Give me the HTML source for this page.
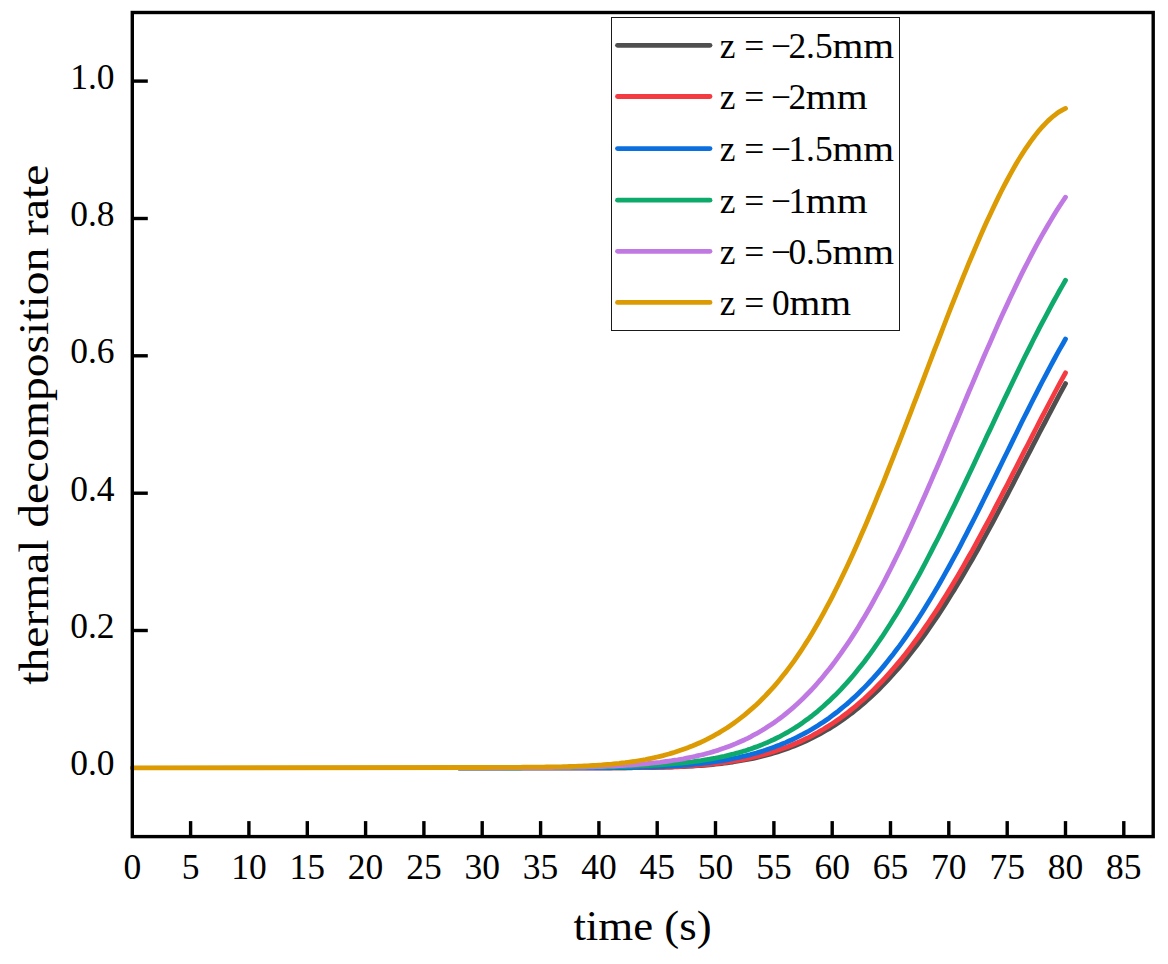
<!DOCTYPE html>
<html><head><meta charset="utf-8"><title>chart</title>
<style>
html,body{margin:0;padding:0;background:#fff;}
body{width:1168px;height:964px;overflow:hidden;font-family:"Liberation Serif",serif;}
svg{display:block;}
text{font-family:"Liberation Serif",serif;fill:#000;}
</style></head><body>
<svg width="1168" height="964" viewBox="0 0 1168 964">
<rect width="1168" height="964" fill="#fff"/>

<g stroke="#000" stroke-width="3.4">
<line x1="190.6" y1="836.6" x2="190.6" y2="821.1"/>
<line x1="248.9" y1="836.6" x2="248.9" y2="821.1"/>
<line x1="307.3" y1="836.6" x2="307.3" y2="821.1"/>
<line x1="365.6" y1="836.6" x2="365.6" y2="821.1"/>
<line x1="423.9" y1="836.6" x2="423.9" y2="821.1"/>
<line x1="482.2" y1="836.6" x2="482.2" y2="821.1"/>
<line x1="540.6" y1="836.6" x2="540.6" y2="821.1"/>
<line x1="598.9" y1="836.6" x2="598.9" y2="821.1"/>
<line x1="657.2" y1="836.6" x2="657.2" y2="821.1"/>
<line x1="715.5" y1="836.6" x2="715.5" y2="821.1"/>
<line x1="773.9" y1="836.6" x2="773.9" y2="821.1"/>
<line x1="832.2" y1="836.6" x2="832.2" y2="821.1"/>
<line x1="890.5" y1="836.6" x2="890.5" y2="821.1"/>
<line x1="948.8" y1="836.6" x2="948.8" y2="821.1"/>
<line x1="1007.2" y1="836.6" x2="1007.2" y2="821.1"/>
<line x1="1065.5" y1="836.6" x2="1065.5" y2="821.1"/>
<line x1="1123.8" y1="836.6" x2="1123.8" y2="821.1"/>
<line x1="132.3" y1="767.9" x2="147.8" y2="767.9"/>
<line x1="132.3" y1="630.5" x2="147.8" y2="630.5"/>
<line x1="132.3" y1="493.2" x2="147.8" y2="493.2"/>
<line x1="132.3" y1="355.8" x2="147.8" y2="355.8"/>
<line x1="132.3" y1="218.5" x2="147.8" y2="218.5"/>
<line x1="132.3" y1="81.1" x2="147.8" y2="81.1"/>
</g>
<g fill="none" stroke-linecap="round" stroke-linejoin="round" stroke-width="4.8">
<path d="M458.9,767.9 L482.2,767.9 L493.9,767.9 L496.8,767.9 L499.7,767.9 L502.7,767.9 L505.6,767.9 L508.5,767.9 L511.4,767.9 L514.3,767.9 L517.2,767.9 L520.2,767.9 L523.1,767.9 L526.0,767.9 L528.9,767.9 L531.8,767.9 L534.7,767.9 L537.6,767.9 L540.6,767.9 L543.5,767.9 L546.4,767.9 L549.3,767.9 L552.2,767.9 L555.1,767.9 L558.1,767.9 L561.0,767.9 L563.9,767.9 L566.8,767.9 L569.7,767.9 L572.6,767.9 L575.6,767.9 L578.5,767.9 L581.4,767.9 L584.3,767.9 L587.2,767.9 L590.1,767.9 L593.1,767.9 L596.0,767.9 L598.9,767.9 L601.8,767.9 L604.7,767.9 L607.6,767.9 L610.6,767.9 L613.5,767.9 L616.4,767.8 L619.3,767.8 L622.2,767.8 L625.1,767.8 L628.0,767.8 L631.0,767.8 L633.9,767.7 L636.8,767.7 L639.7,767.7 L642.6,767.7 L645.5,767.6 L648.5,767.6 L651.4,767.5 L654.3,767.5 L657.2,767.4 L660.1,767.3 L663.0,767.3 L666.0,767.2 L668.9,767.1 L671.8,767.0 L674.7,766.9 L677.6,766.8 L680.5,766.7 L683.5,766.5 L686.4,766.4 L689.3,766.2 L692.2,766.1 L695.1,765.9 L698.0,765.7 L701.0,765.5 L703.9,765.3 L706.8,765.0 L709.7,764.8 L712.6,764.5 L715.5,764.2 L718.5,763.9 L721.4,763.5 L724.3,763.2 L727.2,762.8 L730.1,762.4 L733.0,762.0 L735.9,761.5 L738.9,761.0 L741.8,760.5 L744.7,760.0 L747.6,759.5 L750.5,758.9 L753.4,758.3 L756.4,757.6 L759.3,756.9 L762.2,756.2 L765.1,755.5 L768.0,754.7 L770.9,753.9 L773.9,753.0 L776.8,752.2 L779.7,751.2 L782.6,750.3 L785.5,749.3 L788.4,748.2 L791.4,747.1 L794.3,746.0 L797.2,744.8 L800.1,743.6 L803.0,742.3 L805.9,741.0 L808.9,739.6 L811.8,738.2 L814.7,736.7 L817.6,735.2 L820.5,733.6 L823.4,732.0 L826.3,730.3 L829.3,728.6 L832.2,726.8 L835.1,724.9 L838.0,723.0 L840.9,721.0 L843.8,719.0 L846.8,716.9 L849.7,714.7 L852.6,712.5 L855.5,710.2 L858.4,707.8 L861.3,705.4 L864.3,702.9 L867.2,700.3 L870.1,697.7 L873.0,695.0 L875.9,692.2 L878.8,689.4 L881.8,686.4 L884.7,683.4 L887.6,680.4 L890.5,677.2 L893.4,674.0 L896.3,670.7 L899.3,667.3 L902.2,663.9 L905.1,660.4 L908.0,656.7 L910.9,653.1 L913.8,649.3 L916.8,645.5 L919.7,641.6 L922.6,637.6 L925.5,633.5 L928.4,629.4 L931.3,625.2 L934.2,620.9 L937.2,616.6 L940.1,612.2 L943.0,607.7 L945.9,603.1 L948.8,598.5 L951.7,593.8 L954.7,589.1 L957.6,584.3 L960.5,579.5 L963.4,574.5 L966.3,569.6 L969.2,564.5 L972.2,559.5 L975.1,554.3 L978.0,549.2 L980.9,543.9 L983.8,538.6 L986.7,533.3 L989.7,527.9 L992.6,522.5 L995.5,517.1 L998.4,511.6 L1001.3,506.1 L1004.2,500.6 L1007.2,495.0 L1010.1,489.5 L1013.0,483.9 L1015.9,478.2 L1018.8,472.6 L1021.7,467.0 L1024.6,461.3 L1027.6,455.7 L1030.5,450.1 L1033.4,444.4 L1036.3,438.8 L1039.2,433.2 L1042.1,427.6 L1045.1,422.0 L1048.0,416.4 L1050.9,410.8 L1053.8,405.3 L1056.7,399.8 L1059.6,394.4 L1062.6,388.9 L1065.5,383.6" stroke="#4f4f4f"/>
<path d="M458.9,767.9 L482.2,767.9 L493.9,767.9 L496.8,767.9 L499.7,767.9 L502.7,767.9 L505.6,767.9 L508.5,767.9 L511.4,767.9 L514.3,767.9 L517.2,767.9 L520.2,767.9 L523.1,767.9 L526.0,767.9 L528.9,767.9 L531.8,767.9 L534.7,767.9 L537.6,767.9 L540.6,767.9 L543.5,767.9 L546.4,767.9 L549.3,767.9 L552.2,767.9 L555.1,767.9 L558.1,767.9 L561.0,767.9 L563.9,767.9 L566.8,767.9 L569.7,767.9 L572.6,767.9 L575.6,767.9 L578.5,767.9 L581.4,767.9 L584.3,767.9 L587.2,767.9 L590.1,767.9 L593.1,767.9 L596.0,767.9 L598.9,767.9 L601.8,767.9 L604.7,767.9 L607.6,767.9 L610.6,767.8 L613.5,767.8 L616.4,767.8 L619.3,767.8 L622.2,767.8 L625.1,767.8 L628.0,767.7 L631.0,767.7 L633.9,767.7 L636.8,767.7 L639.7,767.6 L642.6,767.6 L645.5,767.5 L648.5,767.5 L651.4,767.4 L654.3,767.4 L657.2,767.3 L660.1,767.2 L663.0,767.1 L666.0,767.1 L668.9,767.0 L671.8,766.8 L674.7,766.7 L677.6,766.6 L680.5,766.5 L683.5,766.3 L686.4,766.1 L689.3,766.0 L692.2,765.8 L695.1,765.6 L698.0,765.3 L701.0,765.1 L703.9,764.8 L706.8,764.6 L709.7,764.3 L712.6,764.0 L715.5,763.6 L718.5,763.3 L721.4,762.9 L724.3,762.5 L727.2,762.1 L730.1,761.7 L733.0,761.2 L735.9,760.7 L738.9,760.2 L741.8,759.7 L744.7,759.1 L747.6,758.5 L750.5,757.8 L753.4,757.2 L756.4,756.5 L759.3,755.8 L762.2,755.0 L765.1,754.2 L768.0,753.4 L770.9,752.5 L773.9,751.6 L776.8,750.6 L779.7,749.6 L782.6,748.6 L785.5,747.5 L788.4,746.4 L791.4,745.2 L794.3,744.0 L797.2,742.8 L800.1,741.5 L803.0,740.1 L805.9,738.7 L808.9,737.3 L811.8,735.8 L814.7,734.2 L817.6,732.6 L820.5,730.9 L823.4,729.2 L826.3,727.4 L829.3,725.6 L832.2,723.7 L835.1,721.8 L838.0,719.7 L840.9,717.7 L843.8,715.5 L846.8,713.3 L849.7,711.0 L852.6,708.7 L855.5,706.3 L858.4,703.8 L861.3,701.3 L864.3,698.7 L867.2,696.0 L870.1,693.2 L873.0,690.4 L875.9,687.5 L878.8,684.5 L881.8,681.5 L884.7,678.4 L887.6,675.2 L890.5,671.9 L893.4,668.5 L896.3,665.1 L899.3,661.6 L902.2,658.1 L905.1,654.4 L908.0,650.7 L910.9,646.9 L913.8,643.0 L916.8,639.0 L919.7,635.0 L922.6,630.9 L925.5,626.7 L928.4,622.5 L931.3,618.2 L934.2,613.8 L937.2,609.3 L940.1,604.8 L943.0,600.1 L945.9,595.5 L948.8,590.7 L951.7,585.9 L954.7,581.0 L957.6,576.1 L960.5,571.1 L963.4,566.1 L966.3,560.9 L969.2,555.8 L972.2,550.6 L975.1,545.3 L978.0,540.0 L980.9,534.6 L983.8,529.2 L986.7,523.8 L989.7,518.3 L992.6,512.8 L995.5,507.2 L998.4,501.7 L1001.3,496.0 L1004.2,490.4 L1007.2,484.8 L1010.1,479.1 L1013.0,473.4 L1015.9,467.8 L1018.8,462.1 L1021.7,456.4 L1024.6,450.7 L1027.6,445.0 L1030.5,439.3 L1033.4,433.6 L1036.3,428.0 L1039.2,422.3 L1042.1,416.7 L1045.1,411.1 L1048.0,405.5 L1050.9,400.0 L1053.8,394.5 L1056.7,389.0 L1059.6,383.6 L1062.6,378.2 L1065.5,372.8" stroke="#f43b41"/>
<path d="M458.9,767.9 L482.2,767.9 L493.9,767.9 L496.8,767.9 L499.7,767.9 L502.7,767.9 L505.6,767.9 L508.5,767.9 L511.4,767.9 L514.3,767.9 L517.2,767.9 L520.2,767.9 L523.1,767.9 L526.0,767.9 L528.9,767.9 L531.8,767.9 L534.7,767.9 L537.6,767.9 L540.6,767.9 L543.5,767.9 L546.4,767.9 L549.3,767.9 L552.2,767.9 L555.1,767.9 L558.1,767.9 L561.0,767.9 L563.9,767.9 L566.8,767.9 L569.7,767.9 L572.6,767.9 L575.6,767.9 L578.5,767.9 L581.4,767.9 L584.3,767.9 L587.2,767.9 L590.1,767.9 L593.1,767.8 L596.0,767.8 L598.9,767.8 L601.8,767.8 L604.7,767.8 L607.6,767.8 L610.6,767.8 L613.5,767.7 L616.4,767.7 L619.3,767.7 L622.2,767.6 L625.1,767.6 L628.0,767.6 L631.0,767.5 L633.9,767.4 L636.8,767.4 L639.7,767.3 L642.6,767.2 L645.5,767.2 L648.5,767.1 L651.4,767.0 L654.3,766.9 L657.2,766.8 L660.1,766.6 L663.0,766.5 L666.0,766.4 L668.9,766.2 L671.8,766.0 L674.7,765.9 L677.6,765.7 L680.5,765.5 L683.5,765.2 L686.4,765.0 L689.3,764.8 L692.2,764.5 L695.1,764.2 L698.0,763.9 L701.0,763.6 L703.9,763.2 L706.8,762.9 L709.7,762.5 L712.6,762.1 L715.5,761.7 L718.5,761.2 L721.4,760.8 L724.3,760.3 L727.2,759.8 L730.1,759.2 L733.0,758.6 L735.9,758.0 L738.9,757.4 L741.8,756.7 L744.7,756.1 L747.6,755.3 L750.5,754.6 L753.4,753.8 L756.4,753.0 L759.3,752.1 L762.2,751.2 L765.1,750.3 L768.0,749.3 L770.9,748.3 L773.9,747.2 L776.8,746.1 L779.7,745.0 L782.6,743.8 L785.5,742.6 L788.4,741.3 L791.4,740.0 L794.3,738.6 L797.2,737.2 L800.1,735.7 L803.0,734.2 L805.9,732.6 L808.9,731.0 L811.8,729.3 L814.7,727.5 L817.6,725.7 L820.5,723.8 L823.4,721.9 L826.3,719.9 L829.3,717.9 L832.2,715.7 L835.1,713.5 L838.0,711.3 L840.9,708.9 L843.8,706.5 L846.8,704.1 L849.7,701.5 L852.6,698.9 L855.5,696.2 L858.4,693.4 L861.3,690.6 L864.3,687.6 L867.2,684.6 L870.1,681.5 L873.0,678.4 L875.9,675.1 L878.8,671.8 L881.8,668.4 L884.7,664.9 L887.6,661.3 L890.5,657.6 L893.4,653.9 L896.3,650.0 L899.3,646.1 L902.2,642.1 L905.1,638.0 L908.0,633.8 L910.9,629.6 L913.8,625.2 L916.8,620.8 L919.7,616.3 L922.6,611.7 L925.5,607.0 L928.4,602.3 L931.3,597.5 L934.2,592.6 L937.2,587.6 L940.1,582.5 L943.0,577.4 L945.9,572.2 L948.8,567.0 L951.7,561.6 L954.7,556.2 L957.6,550.8 L960.5,545.3 L963.4,539.7 L966.3,534.1 L969.2,528.4 L972.2,522.7 L975.1,517.0 L978.0,511.2 L980.9,505.4 L983.8,499.5 L986.7,493.6 L989.7,487.7 L992.6,481.8 L995.5,475.9 L998.4,469.9 L1001.3,464.0 L1004.2,458.0 L1007.2,452.0 L1010.1,446.1 L1013.0,440.1 L1015.9,434.2 L1018.8,428.2 L1021.7,422.3 L1024.6,416.5 L1027.6,410.6 L1030.5,404.8 L1033.4,399.0 L1036.3,393.3 L1039.2,387.6 L1042.1,382.0 L1045.1,376.4 L1048.0,370.8 L1050.9,365.4 L1053.8,360.0 L1056.7,354.6 L1059.6,349.4 L1062.6,344.2 L1065.5,339.0" stroke="#0b6fe0"/>
<path d="M458.9,767.9 L482.2,767.8 L493.9,767.8 L496.8,767.8 L499.7,767.8 L502.7,767.8 L505.6,767.8 L508.5,767.8 L511.4,767.8 L514.3,767.8 L517.2,767.8 L520.2,767.8 L523.1,767.7 L526.0,767.7 L528.9,767.7 L531.8,767.7 L534.7,767.7 L537.6,767.7 L540.6,767.7 L543.5,767.7 L546.4,767.6 L549.3,767.6 L552.2,767.6 L555.1,767.6 L558.1,767.6 L561.0,767.5 L563.9,767.5 L566.8,767.5 L569.7,767.5 L572.6,767.5 L575.6,767.4 L578.5,767.4 L581.4,767.4 L584.3,767.3 L587.2,767.3 L590.1,767.2 L593.1,767.2 L596.0,767.2 L598.9,767.1 L601.8,767.0 L604.7,767.0 L607.6,766.9 L610.6,766.9 L613.5,766.8 L616.4,766.7 L619.3,766.6 L622.2,766.6 L625.1,766.5 L628.0,766.4 L631.0,766.3 L633.9,766.1 L636.8,766.0 L639.7,765.9 L642.6,765.8 L645.5,765.6 L648.5,765.5 L651.4,765.3 L654.3,765.2 L657.2,765.0 L660.1,764.8 L663.0,764.6 L666.0,764.4 L668.9,764.1 L671.8,763.9 L674.7,763.6 L677.6,763.4 L680.5,763.1 L683.5,762.8 L686.4,762.5 L689.3,762.1 L692.2,761.8 L695.1,761.4 L698.0,761.0 L701.0,760.6 L703.9,760.1 L706.8,759.6 L709.7,759.2 L712.6,758.6 L715.5,758.1 L718.5,757.5 L721.4,756.9 L724.3,756.3 L727.2,755.6 L730.1,754.9 L733.0,754.2 L735.9,753.4 L738.9,752.6 L741.8,751.7 L744.7,750.9 L747.6,749.9 L750.5,749.0 L753.4,747.9 L756.4,746.9 L759.3,745.8 L762.2,744.6 L765.1,743.4 L768.0,742.2 L770.9,740.8 L773.9,739.5 L776.8,738.0 L779.7,736.6 L782.6,735.0 L785.5,733.4 L788.4,731.8 L791.4,730.0 L794.3,728.2 L797.2,726.4 L800.1,724.4 L803.0,722.4 L805.9,720.3 L808.9,718.2 L811.8,716.0 L814.7,713.6 L817.6,711.3 L820.5,708.8 L823.4,706.3 L826.3,703.6 L829.3,700.9 L832.2,698.1 L835.1,695.3 L838.0,692.3 L840.9,689.3 L843.8,686.1 L846.8,682.9 L849.7,679.6 L852.6,676.2 L855.5,672.7 L858.4,669.1 L861.3,665.4 L864.3,661.7 L867.2,657.8 L870.1,653.9 L873.0,649.8 L875.9,645.7 L878.8,641.5 L881.8,637.2 L884.7,632.8 L887.6,628.3 L890.5,623.8 L893.4,619.1 L896.3,614.4 L899.3,609.5 L902.2,604.6 L905.1,599.6 L908.0,594.6 L910.9,589.4 L913.8,584.2 L916.8,578.9 L919.7,573.6 L922.6,568.1 L925.5,562.6 L928.4,557.0 L931.3,551.4 L934.2,545.7 L937.2,540.0 L940.1,534.2 L943.0,528.3 L945.9,522.4 L948.8,516.5 L951.7,510.5 L954.7,504.5 L957.6,498.4 L960.5,492.3 L963.4,486.2 L966.3,480.1 L969.2,473.9 L972.2,467.7 L975.1,461.5 L978.0,455.3 L980.9,449.1 L983.8,442.9 L986.7,436.6 L989.7,430.4 L992.6,424.2 L995.5,418.0 L998.4,411.8 L1001.3,405.7 L1004.2,399.5 L1007.2,393.4 L1010.1,387.3 L1013.0,381.2 L1015.9,375.2 L1018.8,369.2 L1021.7,363.2 L1024.6,357.3 L1027.6,351.4 L1030.5,345.6 L1033.4,339.8 L1036.3,334.1 L1039.2,328.4 L1042.1,322.8 L1045.1,317.3 L1048.0,311.8 L1050.9,306.4 L1053.8,301.0 L1056.7,295.8 L1059.6,290.5 L1062.6,285.4 L1065.5,280.3" stroke="#0eaa6b"/>
<path d="M458.9,767.9 L482.2,767.8 L493.9,767.8 L496.8,767.8 L499.7,767.8 L502.7,767.8 L505.6,767.7 L508.5,767.7 L511.4,767.7 L514.3,767.7 L517.2,767.7 L520.2,767.7 L523.1,767.7 L526.0,767.7 L528.9,767.6 L531.8,767.6 L534.7,767.6 L537.6,767.6 L540.6,767.6 L543.5,767.5 L546.4,767.5 L549.3,767.5 L552.2,767.5 L555.1,767.4 L558.1,767.4 L561.0,767.4 L563.9,767.3 L566.8,767.3 L569.7,767.3 L572.6,767.2 L575.6,767.2 L578.5,767.1 L581.4,767.1 L584.3,767.0 L587.2,766.9 L590.1,766.8 L593.1,766.8 L596.0,766.7 L598.9,766.6 L601.8,766.5 L604.7,766.4 L607.6,766.2 L610.6,766.1 L613.5,766.0 L616.4,765.8 L619.3,765.7 L622.2,765.5 L625.1,765.4 L628.0,765.2 L631.0,765.0 L633.9,764.8 L636.8,764.5 L639.7,764.3 L642.6,764.1 L645.5,763.8 L648.5,763.5 L651.4,763.2 L654.3,762.9 L657.2,762.6 L660.1,762.3 L663.0,761.9 L666.0,761.5 L668.9,761.1 L671.8,760.7 L674.7,760.2 L677.6,759.8 L680.5,759.3 L683.5,758.8 L686.4,758.2 L689.3,757.6 L692.2,757.0 L695.1,756.4 L698.0,755.7 L701.0,755.0 L703.9,754.3 L706.8,753.5 L709.7,752.7 L712.6,751.9 L715.5,751.0 L718.5,750.1 L721.4,749.1 L724.3,748.1 L727.2,747.0 L730.1,745.9 L733.0,744.8 L735.9,743.6 L738.9,742.3 L741.8,741.0 L744.7,739.7 L747.6,738.3 L750.5,736.8 L753.4,735.2 L756.4,733.7 L759.3,732.0 L762.2,730.3 L765.1,728.5 L768.0,726.6 L770.9,724.7 L773.9,722.7 L776.8,720.6 L779.7,718.5 L782.6,716.3 L785.5,714.0 L788.4,711.6 L791.4,709.1 L794.3,706.6 L797.2,703.9 L800.1,701.2 L803.0,698.4 L805.9,695.5 L808.9,692.5 L811.8,689.5 L814.7,686.3 L817.6,683.0 L820.5,679.7 L823.4,676.2 L826.3,672.6 L829.3,669.0 L832.2,665.2 L835.1,661.4 L838.0,657.4 L840.9,653.4 L843.8,649.2 L846.8,644.9 L849.7,640.6 L852.6,636.1 L855.5,631.6 L858.4,626.9 L861.3,622.1 L864.3,617.2 L867.2,612.3 L870.1,607.2 L873.0,602.0 L875.9,596.7 L878.8,591.4 L881.8,585.9 L884.7,580.4 L887.6,574.7 L890.5,569.0 L893.4,563.1 L896.3,557.2 L899.3,551.2 L902.2,545.1 L905.1,539.0 L908.0,532.8 L910.9,526.5 L913.8,520.1 L916.8,513.6 L919.7,507.1 L922.6,500.6 L925.5,494.0 L928.4,487.3 L931.3,480.6 L934.2,473.8 L937.2,467.0 L940.1,460.2 L943.0,453.4 L945.9,446.5 L948.8,439.6 L951.7,432.6 L954.7,425.7 L957.6,418.8 L960.5,411.8 L963.4,404.9 L966.3,398.0 L969.2,391.0 L972.2,384.1 L975.1,377.3 L978.0,370.4 L980.9,363.6 L983.8,356.8 L986.7,350.1 L989.7,343.4 L992.6,336.7 L995.5,330.1 L998.4,323.6 L1001.3,317.1 L1004.2,310.7 L1007.2,304.4 L1010.1,298.1 L1013.0,292.0 L1015.9,285.9 L1018.8,279.9 L1021.7,273.9 L1024.6,268.1 L1027.6,262.4 L1030.5,256.7 L1033.4,251.2 L1036.3,245.7 L1039.2,240.4 L1042.1,235.2 L1045.1,230.0 L1048.0,225.0 L1050.9,220.1 L1053.8,215.3 L1056.7,210.6 L1059.6,206.0 L1062.6,201.5 L1065.5,197.2" stroke="#c079e2"/>
<path d="M132.3,767.9 L482.2,767.5 L493.9,767.4 L496.8,767.4 L499.7,767.4 L502.7,767.4 L505.6,767.3 L508.5,767.3 L511.4,767.3 L514.3,767.3 L517.2,767.3 L520.2,767.3 L523.1,767.2 L526.0,767.2 L528.9,767.2 L531.8,767.2 L534.7,767.1 L537.6,767.1 L540.6,767.1 L543.5,767.1 L546.4,767.0 L549.3,767.0 L552.2,766.9 L555.1,766.9 L558.1,766.8 L561.0,766.8 L563.9,766.7 L566.8,766.6 L569.7,766.5 L572.6,766.5 L575.6,766.4 L578.5,766.2 L581.4,766.1 L584.3,766.0 L587.2,765.9 L590.1,765.7 L593.1,765.5 L596.0,765.4 L598.9,765.2 L601.8,765.0 L604.7,764.7 L607.6,764.5 L610.6,764.3 L613.5,764.0 L616.4,763.7 L619.3,763.4 L622.2,763.0 L625.1,762.7 L628.0,762.3 L631.0,761.9 L633.9,761.5 L636.8,761.0 L639.7,760.5 L642.6,760.0 L645.5,759.5 L648.5,758.9 L651.4,758.3 L654.3,757.7 L657.2,757.0 L660.1,756.3 L663.0,755.6 L666.0,754.8 L668.9,754.0 L671.8,753.1 L674.7,752.3 L677.6,751.3 L680.5,750.3 L683.5,749.3 L686.4,748.3 L689.3,747.1 L692.2,746.0 L695.1,744.8 L698.0,743.5 L701.0,742.2 L703.9,740.8 L706.8,739.4 L709.7,737.9 L712.6,736.4 L715.5,734.7 L718.5,733.1 L721.4,731.3 L724.3,729.5 L727.2,727.7 L730.1,725.7 L733.0,723.7 L735.9,721.6 L738.9,719.4 L741.8,717.2 L744.7,714.9 L747.6,712.4 L750.5,709.9 L753.4,707.4 L756.4,704.7 L759.3,701.9 L762.2,699.0 L765.1,696.1 L768.0,693.0 L770.9,689.9 L773.9,686.6 L776.8,683.2 L779.7,679.7 L782.6,676.1 L785.5,672.4 L788.4,668.6 L791.4,664.6 L794.3,660.6 L797.2,656.4 L800.1,652.1 L803.0,647.7 L805.9,643.1 L808.9,638.5 L811.8,633.7 L814.7,628.8 L817.6,623.7 L820.5,618.6 L823.4,613.3 L826.3,607.9 L829.3,602.4 L832.2,596.8 L835.1,591.0 L838.0,585.2 L840.9,579.2 L843.8,573.2 L846.8,567.0 L849.7,560.7 L852.6,554.4 L855.5,547.9 L858.4,541.4 L861.3,534.7 L864.3,528.0 L867.2,521.2 L870.1,514.3 L873.0,507.3 L875.9,500.3 L878.8,493.2 L881.8,486.1 L884.7,478.8 L887.6,471.5 L890.5,464.2 L893.4,456.8 L896.3,449.4 L899.3,441.9 L902.2,434.4 L905.1,426.9 L908.0,419.3 L910.9,411.8 L913.8,404.1 L916.8,396.5 L919.7,388.9 L922.6,381.3 L925.5,373.6 L928.4,366.0 L931.3,358.4 L934.2,350.7 L937.2,343.1 L940.1,335.6 L943.0,328.0 L945.9,320.5 L948.8,313.0 L951.7,305.6 L954.7,298.2 L957.6,290.9 L960.5,283.6 L963.4,276.4 L966.3,269.3 L969.2,262.2 L972.2,255.3 L975.1,248.4 L978.0,241.6 L980.9,234.9 L983.8,228.3 L986.7,221.8 L989.7,215.5 L992.6,209.2 L995.5,203.1 L998.4,197.1 L1001.3,191.3 L1004.2,185.6 L1007.2,180.0 L1010.1,174.7 L1013.0,169.4 L1015.9,164.3 L1018.8,159.4 L1021.7,154.7 L1024.6,150.2 L1027.6,145.8 L1030.5,141.6 L1033.4,137.7 L1036.3,133.9 L1039.2,130.3 L1042.1,127.0 L1045.1,123.9 L1048.0,120.9 L1050.9,118.3 L1053.8,115.8 L1056.7,113.6 L1059.6,111.6 L1062.6,109.9 L1065.5,108.4" stroke="#dc9a03"/>
</g>
<rect x="132.3" y="12.5" width="1020.9" height="824.1" fill="none" stroke="#000" stroke-width="3.4"/>
<g font-size="35.5" text-anchor="middle">
<text x="132.3" y="878.8">0</text>
<text x="190.6" y="878.8">5</text>
<text x="248.9" y="878.8">10</text>
<text x="307.3" y="878.8">15</text>
<text x="365.6" y="878.8">20</text>
<text x="423.9" y="878.8">25</text>
<text x="482.2" y="878.8">30</text>
<text x="540.6" y="878.8">35</text>
<text x="598.9" y="878.8">40</text>
<text x="657.2" y="878.8">45</text>
<text x="715.5" y="878.8">50</text>
<text x="773.9" y="878.8">55</text>
<text x="832.2" y="878.8">60</text>
<text x="890.5" y="878.8">65</text>
<text x="948.8" y="878.8">70</text>
<text x="1007.2" y="878.8">75</text>
<text x="1065.5" y="878.8">80</text>
<text x="1123.8" y="878.8">85</text>
</g>
<g font-size="35.5" text-anchor="end">
<text x="114.6" y="775.3">0.0</text>
<text x="114.6" y="637.9">0.2</text>
<text x="114.6" y="500.6">0.4</text>
<text x="114.6" y="363.2">0.6</text>
<text x="114.6" y="225.9">0.8</text>
<text x="114.6" y="88.5">1.0</text>
</g>
<text font-size="43" text-anchor="middle" transform="translate(642.5,939.5) scale(1.043,1)">time (s)</text>
<text font-size="43" text-anchor="middle" transform="translate(48.1,424.7) rotate(-90) scale(1.1056,1)">thermal decomposition rate</text>
<rect x="611.5" y="17.5" width="288" height="313" fill="#fff" stroke="#1a1a1a" stroke-width="1"/>
<g fill="none" stroke-linecap="round" stroke-width="4.8">
<line x1="617.5" y1="45.3" x2="710" y2="45.3" stroke="#4f4f4f"/>
<line x1="617.5" y1="96.5" x2="710" y2="96.5" stroke="#f43b41"/>
<line x1="617.5" y1="148.6" x2="710" y2="148.6" stroke="#0b6fe0"/>
<line x1="617.5" y1="200.2" x2="710" y2="200.2" stroke="#0eaa6b"/>
<line x1="617.5" y1="251.3" x2="710" y2="251.3" stroke="#c079e2"/>
<line x1="617.5" y1="302.4" x2="710" y2="302.4" stroke="#dc9a03"/>
</g>
<g font-size="35.4">
<text x="719.7" y="58.1">z =</text>
<text x="771.0" y="58.1">−</text>
<text x="788.4" y="58.1">2.5</text>
<text transform="translate(832.4,58.1) scale(1.12,1)">mm</text>
<text x="719.7" y="109.3">z =</text>
<text x="771.0" y="109.3">−</text>
<text x="788.4" y="109.3">2</text>
<text transform="translate(805.8,109.3) scale(1.12,1)">mm</text>
<text x="719.7" y="161.4">z =</text>
<text x="771.0" y="161.4">−</text>
<text x="788.4" y="161.4">1.5</text>
<text transform="translate(832.4,161.4) scale(1.12,1)">mm</text>
<text x="719.7" y="213.0">z =</text>
<text x="771.0" y="213.0">−</text>
<text x="788.4" y="213.0">1</text>
<text transform="translate(805.8,213.0) scale(1.12,1)">mm</text>
<text x="719.7" y="264.1">z =</text>
<text x="771.0" y="264.1">−</text>
<text x="788.4" y="264.1">0.5</text>
<text transform="translate(832.4,264.1) scale(1.12,1)">mm</text>
<text x="719.7" y="315.2">z =</text>
<text x="772.0" y="315.2">0</text>
<text transform="translate(789.4,315.2) scale(1.12,1)">mm</text>
</g>
</svg></body></html>
